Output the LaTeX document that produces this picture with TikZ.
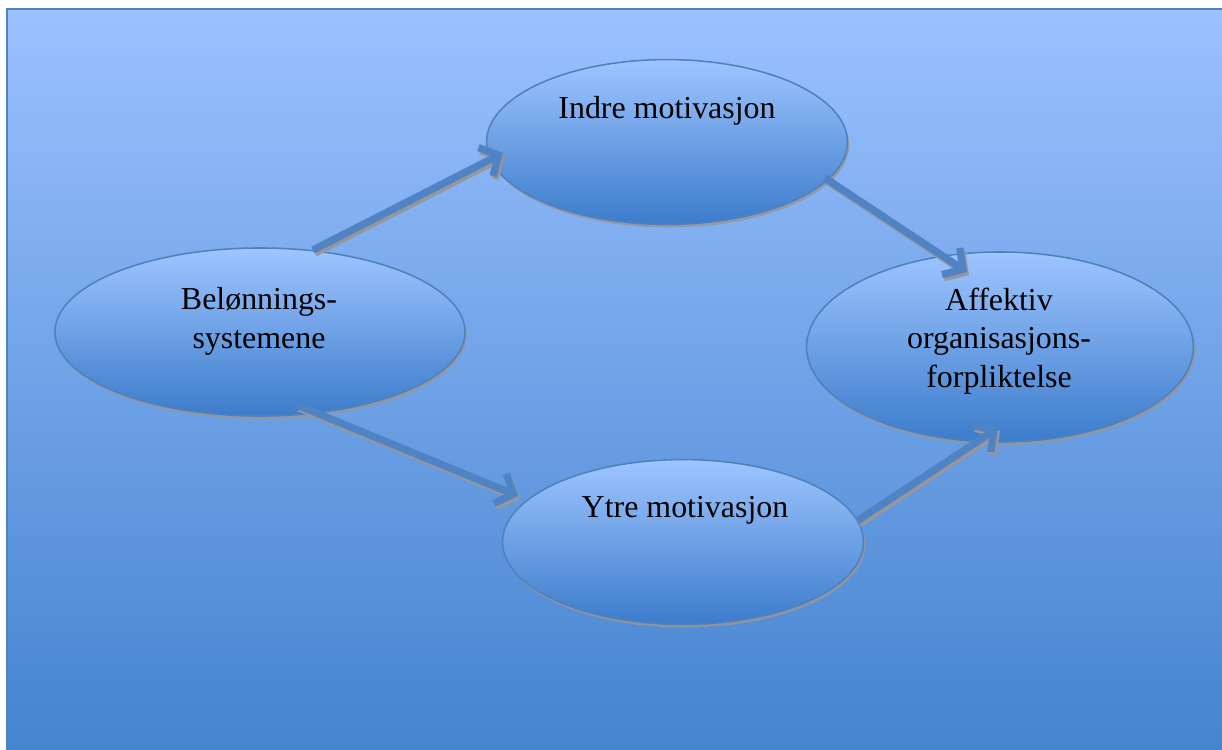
\documentclass[tikz,border=0pt]{standalone}
\usepackage{fontspec}
\setmainfont{Liberation Serif}
\usetikzlibrary{shapes.geometric,arrows.meta,calc,shadows}
\definecolor{bgtop}{RGB}{155,193,255}
\definecolor{bgbot}{RGB}{66,130,205}
\definecolor{edge}{RGB}{79,129,189}
\definecolor{ovtop}{RGB}{158,197,255}
\definecolor{ovbot}{RGB}{60,124,203}
\definecolor{arrowc}{RGB}{79,131,196}
\definecolor{shade}{RGB}{150,150,155}

\begin{document}
\begin{tikzpicture}[x=0.025cm,y=-0.025cm,
  oval/.style={ellipse, draw=edge, line width=1.1pt, top color=ovtop, bottom color=ovbot, inner sep=0pt,
    drop shadow={shadow xshift=1.2pt, shadow yshift=-2.2pt, fill=shade, opacity=0.85}},
  caption/.style={font=\fontsize{22.7}{27.2}\selectfont, align=center, inner sep=0pt},
  flow/.style={line width=5.2pt, draw=arrowc, -{Straight Barb[length=0.36cm,width=0.8cm]}},
  flowshadow/.style={line width=5.2pt, draw=shade, -{Straight Barb[length=0.36cm,width=0.8cm]}}
]
% page frame
\path[use as bounding box] (0,0) rectangle (1222,749);
\draw[edge, line width=1.5pt, top color=bgtop, bottom color=bgbot] (7,9) rectangle (1240,770);

% ovals
\node[oval, minimum width=10.25cm, minimum height=4.2cm] (bel) at (260,332) {};
\node[oval, minimum width=9.02cm, minimum height=4.12cm] (ind) at (667,142) {};
\node[oval, minimum width=9.02cm, minimum height=4.12cm] (ytr) at (683,542) {};
\node[oval, minimum width=9.67cm, minimum height=4.75cm] (aff) at (1000,347) {};

% arrow end points
\coordinate (a1s) at ($(bel)+(53,-82)$);
\coordinate (a1e) at ($(ind)+(-164,11)$);
\coordinate (a2s) at ($(ind)+(158,36)$);
\coordinate (a2e) at ($(aff)+(-33,-75)$);
\coordinate (a3s) at ($(bel)+(37,73)$);
\coordinate (a3e) at ($(ytr)+(-165,-46)$);
\coordinate (a4s) at ($(ytr)+(174,-21)$);
\coordinate (a4e) at ($(aff)+(-2,81)$);

\foreach \s/\t in {a1s/a1e, a2s/a2e, a3s/a3e, a4s/a4e} {
  \draw[flowshadow, transform canvas={shift={(2,3)}}] (\s) -- (\t);
  \draw[flow] (\s) -- (\t);
}

% captions (base anchor sits on the last line)
\node[caption, anchor=base] (tind) at (667,118) {Indre motivasjon};
\node[caption, anchor=base] (tytr) at (685,517) {Ytre motivasjon};
\node[caption, anchor=base] (tbel) at (259,348) {Belønnings-\\systemene};
\node[caption, anchor=base] (taff) at (999,387) {Affektiv\\organisasjons-\\forpliktelse};
\end{tikzpicture}
\end{document}
